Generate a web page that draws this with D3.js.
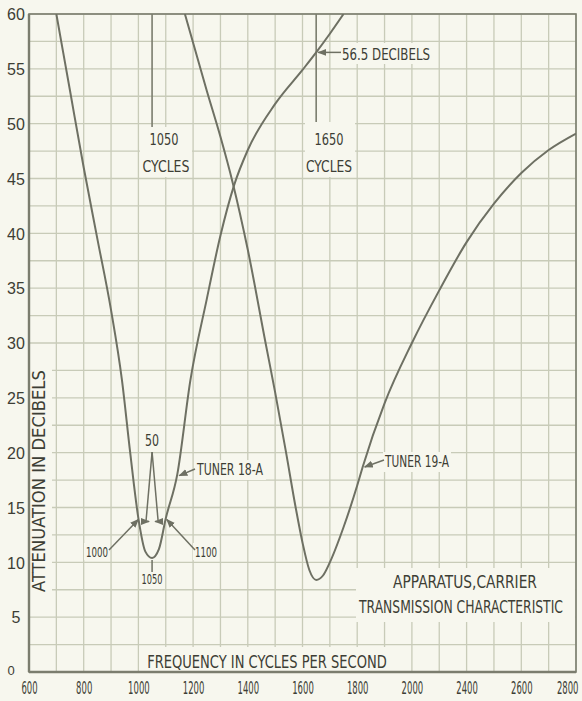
<!DOCTYPE html>
<html><head><meta charset="utf-8">
<script src="https://cdn.jsdelivr.net/npm/d3@7"></script>
<style>
html,body{margin:0;padding:0;background:#f7f7ee;}
svg{display:block;}
text{font-family:"Liberation Sans Narrow","DejaVu Sans Condensed","Liberation Sans",sans-serif;fill:#3d3e35;}
</style></head><body>
<svg id="c" width="582" height="701"></svg>
<script>
// ---- data ----
const xTickValues = [600,800,1000,1200,1400,1600,1800,2000,2200,2400,2600];
const xTickLabels = ["600","800","1000","1200","1400","1600","1800","2000","2400","2600","2800"];
const yTickValues = [0,5,10,15,20,25,30,35,40,45,50,55,60];

const tuner18Freq = [700,750,800,850,900,940,970,1000,1025,1050,1075,1100,1142,1190,1250,1300,1350,1400,1500,1600,1650,1700,1750];
const tuner18Db   = [60,53,46,39.5,33,26.6,20,14,11,10.4,11.2,14,18,26.6,34,39.8,44.4,47.6,51.8,54.9,56.5,58.2,60];

const tuner19Freq = [1170,1250,1300,1345,1400,1465,1500,1540,1575,1600,1625,1650,1675,1700,1750,1800,1820,1900,2000,2100,2200,2300,2400,2500,2600];
const tuner19Db   = [60,53,48.8,44.6,38.5,30,25.5,20,15,11.8,9.3,8.4,8.8,10,13.2,17,18.7,24.5,30,34.8,39.2,42.7,45.5,47.6,49.1];

// ---- setup ----
const W = 582, H = 701;
const svg = d3.select("#c");
const x = d3.scaleLinear().domain([600,2600]).range([29,576]);
const y = d3.scaleLinear().domain([0,60]).range([672,14]);
const ink = "#3d3e35", gridC = "#c8cbb8", curveC = "#6e7063", frameC = "#7b7d6e", bg = "#f7f7ee";

svg.append("rect").attr("width",W).attr("height",H).attr("fill",bg);

// grid
const g = svg.append("g");
g.selectAll("line.v").data(d3.range(600,2601,100)).join("line")
  .attr("x1",d=>x(d)).attr("x2",d=>x(d)).attr("y1",y(60)).attr("y2",y(0))
  .attr("stroke",gridC).attr("stroke-width",1.3);
g.selectAll("line.h").data(d3.range(0,60.01,2.5)).join("line")
  .attr("y1",d=>y(d)).attr("y2",d=>y(d)).attr("x1",x(600)).attr("x2",x(2600))
  .attr("stroke",gridC).attr("stroke-width",1.3);

// reference lines at 1050 and 1650
svg.append("line").attr("x1",x(1050)).attr("x2",x(1050)).attr("y1",y(60)).attr("y2",127)
  .attr("stroke",frameC).attr("stroke-width",1.6);
svg.append("line").attr("x1",x(1650)).attr("x2",x(1650)).attr("y1",y(60)).attr("y2",122)
  .attr("stroke",frameC).attr("stroke-width",1.6);

// label background boxes
const boxes = [
  [30,365,22,232],[139,647,271,24],[356,568,219,54],[140,127,52,50],[305,122,50,55],
  [338,43,96,21],[194,460,72,20],[383,452,68,20],[84,543,26,17],[193,543,26,17],[140,569,24,18],[143,432,19,17]
];
svg.selectAll("rect.box").data(boxes).join("rect")
  .attr("x",d=>d[0]).attr("y",d=>d[1]).attr("width",d=>d[2]).attr("height",d=>d[3]).attr("fill",bg);

// frame
svg.append("rect").attr("x",x(600)).attr("y",y(60)).attr("width",x(2600)-x(600)).attr("height",y(0)-y(60))
  .attr("fill","none").attr("stroke",frameC).attr("stroke-width",1.6);
svg.append("line").attr("x1",x(600)).attr("x2",x(600)).attr("y1",y(60)).attr("y2",y(0)).attr("stroke",frameC).attr("stroke-width",2.4);
svg.append("line").attr("x1",x(600)).attr("x2",x(2600)).attr("y1",y(0)).attr("y2",y(0)).attr("stroke",frameC).attr("stroke-width",2.4);

// curves
svg.append("clipPath").attr("id","clip").append("rect")
  .attr("x",x(600)).attr("y",y(60)).attr("width",x(2600)-x(600)).attr("height",y(0)-y(60));
const line = d3.line().x(d=>x(d[0])).y(d=>y(d[1])).curve(d3.curveMonotoneX);
const t18 = tuner18Freq.map((f,i)=>[f,tuner18Db[i]]);
const t19 = tuner19Freq.map((f,i)=>[f,tuner19Db[i]]);
const cg = svg.append("g").attr("clip-path","url(#clip)");
cg.append("path").attr("d",line(t18)).attr("fill","none").attr("stroke",curveC).attr("stroke-width",2);
cg.append("path").attr("d",line(t19)).attr("fill","none").attr("stroke",curveC).attr("stroke-width",2);

// axes
const xAxis = d3.axisBottom(x).tickValues(xTickValues).tickSize(0).tickPadding(0)
  .tickFormat((d,i)=>xTickLabels[i]);
const xa = svg.append("g").attr("transform","translate(0,682)").call(xAxis);
xa.select(".domain").remove();
const nTick = xTickLabels.length;
xa.selectAll("text").attr("dy","0.71em").attr("y",0).style("font-size","17px").attr("fill",ink)
  .each(function(d,i){
    const w = this.getComputedTextLength();
    const s = (xTickLabels[i].length*5.4)/w;
    if(i===nTick-1){
      d3.select(this).attr("text-anchor","end").attr("transform",`translate(2,0) scale(${s},1)`);
    } else {
      d3.select(this).attr("transform",`scale(${s},1)`);
    }
  });

const yAxis = d3.axisLeft(y).tickValues(yTickValues).tickSize(0).tickPadding(0).tickFormat(d=>String(d));
const ya = svg.append("g").attr("transform","translate(16,0)").call(yAxis);
ya.select(".domain").remove();
ya.selectAll("text").attr("text-anchor","middle").attr("dy","0.36em")
  .style("font-family","'Liberation Sans',sans-serif").style("font-size","16px").attr("fill","#4a4b3e");
ya.selectAll("text").filter(d=>d===0).attr("dy","0.2em").style("font-size","13px").attr("x",-5);

// arrows
const defs = svg.append("defs");
defs.append("marker").attr("id","ah").attr("viewBox","0 0 10 10").attr("refX",9).attr("refY",5)
  .attr("markerWidth",6).attr("markerHeight",6).attr("orient","auto")
  .append("path").attr("d","M0,1 L10,5 L0,9 Z").attr("fill",curveC);
function arrow(x1,y1,x2,y2,head=true){
  const l = svg.append("line").attr("x1",x1).attr("y1",y1).attr("x2",x2).attr("y2",y2)
    .attr("stroke",curveC).attr("stroke-width",1.5);
  if(head) l.attr("marker-end","url(#ah)");
}
arrow(341,y(56.5),x(1650)+2,y(56.5));
arrow(195,469,x(1142)+2,y(18)+1);
arrow(384,460,x(1820)+2,y(18.7));
arrow(109,550,x(1000),y(14)+1);
arrow(195,550,x(1100)+1,y(14)+1);
arrow(x(1050),572,x(1050),y(10.4)+2,false);
arrow(x(1050),452,x(1050)-6,y(14)+2,false);
arrow(x(1050),452,x(1050)+6,y(14)+2,false);
arrow(x(1050)-11,y(14)+3,x(1050)-3,y(14)+3);
arrow(x(1050)+11,y(14)+3,x(1050)+3,y(14)+3);

// texts: fitted to measured widths by horizontal scaling
function txt(s,cx,by,len,size=16,rot=0){
  const t = svg.append("text").text(s).attr("text-anchor","middle").style("font-size",size+"px")
    .attr("x",0).attr("y",0);
  const w = t.node().getComputedTextLength();
  const k = len/w;
  if(rot) t.attr("transform",`translate(${cx},${by}) rotate(${rot}) scale(${k},1)`);
  else t.attr("transform",`translate(${cx},${by}) scale(${k},1)`);
  return t;
}
txt("FREQUENCY IN CYCLES PER SECOND",267,668,240,17);
txt("APPARATUS,CARRIER",465,588,144,17);
txt("TRANSMISSION CHARACTERISTIC",461,613,204,17);
txt("56.5 DECIBELS",386,60,88,16);
txt("1050",164,145,29,16);
txt("CYCLES",166,172,47,16);
txt("1650",329,145,29,16);
txt("CYCLES",329,172,46,16);
txt("TUNER 18-A",230,475,66,16);
txt("TUNER 19-A",417,467,64,16);
txt("1000",97,557,22,14);
txt("1100",206,557,22,14);
txt("1050",152,584,21,14);
txt("50",152,446,14,16);
txt("ATTENUATION IN DECIBELS",45,481,222,17,-90);
</script>
</body></html>
